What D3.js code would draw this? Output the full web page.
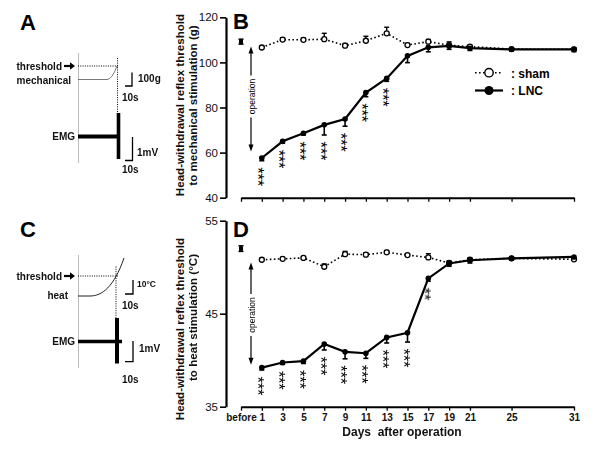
<!DOCTYPE html>
<html><head><meta charset="utf-8">
<script src="https://cdn.jsdelivr.net/npm/d3@7"></script>
<style>
body{margin:0;background:#fff}
svg{display:block}
text{font-family:"Liberation Sans",Arial,Helvetica,sans-serif}
</style>
</head><body>
<svg id="c" width="600" height="449"></svg>
<script>
// ---------- data ----------
const dayLabels = ["before","1","3","5","7","9","11","13","15","17","19","21","25","31"];
const dayValues = [-1,1,3,5,7,9,11,13,15,17,19,21,25,31];   // "before" placed at -1
const days = [1,3,5,7,9,11,13,15,17,19,21,25,31];

// B: mechanical threshold (g)
const mechBefore = 109.2, mechBeforeErr = 1.1;
const mechSham    = [106.6,110.1,110.0,110.3,107.4,109.6,112.9,107.7,109.2,107.6,107.0,105.9,105.8];
const mechShamErr = [0.8,0.8,0.8,2.6,1.0,2.0,2.7,0.7,1.0,1.5,0.6,0.5,0.5];
const mechLNC     = [57.6,65.0,68.6,72.3,74.9,86.6,92.9,102.9,106.7,107.3,106.3,105.8,105.8];
const mechLNCErr  = [1.2,0.8,0.8,4.5,3.2,1.8,1.3,3.0,2.0,1.5,1.0,0.8,1.0];
const mechStars   = ["***","***","***","***","***","***","***","","","","","",""];
const mechTicks   = [40,60,80,100,120];

// D: heat threshold (°C)
const heatBefore = 52.0, heatBeforeErr = 0.3;
const heatSham    = [50.8,50.9,51.0,50.05,51.4,51.35,51.6,51.3,51.05,50.45,50.8,50.95,50.85];
const heatShamErr = [0.15,0.15,0.15,0.3,0.3,0.2,0.2,0.15,0.4,0.2,0.2,0.15,0.15];
const heatLNC     = [39.2,39.75,39.9,41.75,40.9,40.75,42.45,42.95,48.8,50.4,50.75,50.95,51.1];
const heatLNCErr  = [0.25,0.2,0.25,0.65,0.75,0.55,0.6,1.0,0.3,0.3,0.3,0.2,0.2];
const heatStars   = ["***","***","***","***","***","***","***","***","**","","","",""];
const heatTicks   = [35,45,55];

// ---------- setup ----------
const svg = d3.select("#c");
const x = d3.scaleLinear().domain([-1,31]).range([241,574]);
const yB = d3.scaleLinear().domain([40,120]).range([197.7,17.3]);
const yD = d3.scaleLinear().domain([35,55]).range([406.7,220.7]);
const AXX = 226;

function panel(y, ticks, before, beforeErr, sham, shamErr, lnc, lncErr, stars, showLabels){
  const g = svg.append("g");
  // y axis
  const ya = g.append("g").attr("transform",`translate(${AXX},0)`)
    .call(d3.axisLeft(y).tickValues(ticks).tickSize(6).tickSizeOuter(0).tickPadding(2));
  ya.select(".domain").attr("stroke","#000").attr("stroke-width",2.2);
  ya.selectAll(".tick line").attr("stroke","#000").attr("stroke-width",1.6);
  ya.selectAll(".tick text").attr("font-size",11.5).attr("fill","#111")
    .attr("font-family","'Liberation Sans',Arial,sans-serif");
  // x axis
  const y0 = y.range()[0];
  const xa = g.append("g").attr("transform",`translate(0,${y0})`)
    .call(d3.axisBottom(x).tickValues(dayValues)
      .tickFormat((d,i)=> showLabels ? dayLabels[i] : "")
      .tickSize(4).tickSizeOuter(0).tickPadding(3));
  xa.select(".domain").attr("stroke","#000").attr("stroke-width",2);
  xa.selectAll(".tick line").attr("stroke","#000").attr("stroke-width",1.3);
  xa.selectAll(".tick text").attr("font-size",10).attr("font-weight","bold").attr("fill","#111")
    .attr("font-family","'Liberation Sans',Arial,sans-serif");

  // before marker
  const bx = x(-1);
  g.append("line").attr("x1",bx).attr("x2",bx).attr("y1",y(before+beforeErr)).attr("y2",y(before-beforeErr))
    .attr("stroke","#000").attr("stroke-width",1.5);
  [before+beforeErr, before-beforeErr].forEach(v=>{
    g.append("line").attr("x1",bx-2.5).attr("x2",bx+2.5).attr("y1",y(v)).attr("y2",y(v)).attr("stroke","#000").attr("stroke-width",1.5);
  });
  g.append("rect").attr("x",bx-2).attr("y",y(before)-2.2).attr("width",4).attr("height",4.4).attr("fill","#000");

  const shamPts = days.map((d,i)=>({d, v:sham[i], e:shamErr[i]}));
  const lncPts = days.map((d,i)=>({d, v:lnc[i], e:lncErr[i], s:stars[i]}));
  const line = d3.line().x(p=>x(p.d)).y(p=>y(p.v));

  // sham dotted line
  g.append("path").datum(shamPts).attr("d",line).attr("fill","none")
    .attr("stroke","#000").attr("stroke-width",1.6).attr("stroke-dasharray","1.6,2.4");
  // sham error bars (up)
  shamPts.forEach(p=>{
    const yt = y(p.v+p.e);
    g.append("line").attr("x1",x(p.d)).attr("x2",x(p.d)).attr("y1",y(p.v)).attr("y2",yt).attr("stroke","#000").attr("stroke-width",1.4);
    g.append("line").attr("x1",x(p.d)-2.5).attr("x2",x(p.d)+2.5).attr("y1",yt).attr("y2",yt).attr("stroke","#000").attr("stroke-width",1.4);
  });
  // lnc solid line
  g.append("path").datum(lncPts).attr("d",line).attr("fill","none")
    .attr("stroke","#000").attr("stroke-width",2.2);
  // lnc error bars (down)
  lncPts.forEach(p=>{
    const yb = y(p.v-p.e);
    g.append("line").attr("x1",x(p.d)).attr("x2",x(p.d)).attr("y1",y(p.v)).attr("y2",yb).attr("stroke","#000").attr("stroke-width",1.6);
    g.append("line").attr("x1",x(p.d)-2.5).attr("x2",x(p.d)+2.5).attr("y1",yb).attr("y2",yb).attr("stroke","#000").attr("stroke-width",1.6);
  });
  // markers
  g.selectAll(".sh").data(shamPts).enter().append("circle")
    .attr("cx",p=>x(p.d)).attr("cy",p=>y(p.v)).attr("r",2.5)
    .attr("fill","#fff").attr("stroke","#000").attr("stroke-width",1.3);
  g.selectAll(".ln").data(lncPts).enter().append("circle")
    .attr("cx",p=>x(p.d)).attr("cy",p=>y(p.v)).attr("r",2.8).attr("fill","#000");

  // significance stars: one rotated text per point, running downward
  const fs = 16.5;
  const sg = g.append("g").attr("opacity",0.99);
  lncPts.forEach(p=>{
    if(!p.s) return;
    const top = y(p.v-p.e) + 6.5;
    sg.append("text")
      .attr("transform",`translate(${x(p.d) - 0.58*fs},${top}) rotate(90)`)
      .attr("font-size",fs).attr("letter-spacing",-0.2).attr("fill","#000").text(p.s);
  });
  return g;
}

panel(yB, mechTicks, mechBefore, mechBeforeErr, mechSham, mechShamErr, mechLNC, mechLNCErr, mechStars, false);
panel(yD, heatTicks, heatBefore, heatBeforeErr, heatSham, heatShamErr, heatLNC, heatLNCErr, heatStars, true);

// operation arrows
function operation(yTop, yBot, yMid){
  const g = svg.append("g");
  const ax = 251;
  g.append("line").attr("x1",ax).attr("x2",ax).attr("y1",yTop+4).attr("y2",yMid-21).attr("stroke","#000").attr("stroke-width",1.2);
  g.append("line").attr("x1",ax).attr("x2",ax).attr("y1",yMid+21).attr("y2",yBot-4).attr("stroke","#000").attr("stroke-width",1.2);
  g.append("path").attr("d",`M${ax-2.5},${yTop+7}L${ax},${yTop}L${ax+2.5},${yTop+7}Z`).attr("fill","#000");
  g.append("path").attr("d",`M${ax-2.5},${yBot-7}L${ax},${yBot}L${ax+2.5},${yBot-7}Z`).attr("fill","#000");
  g.append("text").attr("transform",`translate(${ax+3.5},${yMid}) rotate(-90)`).attr("text-anchor","middle")
    .attr("font-size",8.5).attr("fill","#000").text("operation");
}
operation(yB(107), yB(60.5), 96.5);
operation(yD(50.5), yD(39.5), 315);

// legend
const lg = svg.append("g");
lg.append("line").attr("x1",475).attr("x2",503).attr("y1",72.7).attr("y2",72.7).attr("stroke","#000").attr("stroke-width",1.6).attr("stroke-dasharray","1.6,2.4");
lg.append("circle").attr("cx",489).attr("cy",72.7).attr("r",4.2).attr("fill","#fff").attr("stroke","#000").attr("stroke-width",1.4);
lg.append("text").attr("x",511).attr("y",77.5).attr("font-size",12).attr("font-weight","bold").text(": sham");
lg.append("line").attr("x1",475).attr("x2",503).attr("y1",90.5).attr("y2",90.5).attr("stroke","#000").attr("stroke-width",2.2);
lg.append("circle").attr("cx",489).attr("cy",90.5).attr("r",4.5).attr("fill","#000");
lg.append("text").attr("x",511).attr("y",95.3).attr("font-size",12).attr("font-weight","bold").text(": LNC");

// panel letters
[["A",20,30],["B",233,29],["C",20,237],["D",233,236.7]].forEach(([t,px,py])=>{
  svg.append("text").attr("x",px).attr("y",py).attr("font-size",22).attr("font-weight","bold").text(t);
});

// y-axis titles
function ytitle(lines){
  lines.forEach(([t,bx,cy])=>{
    svg.append("text").attr("transform",`translate(${bx},${cy}) rotate(-90)`).attr("text-anchor","middle")
      .attr("font-size",11.6).attr("font-weight","bold").attr("fill","#111").text(t);
  });
}
ytitle([["Head-withdrawal reflex threshold",184,105],["to mechanical stimulation  (g)",197,105.5]]);
ytitle([["Head-withdrawal reflex threshold",184,329],["to heat stimulation (°C)",197,317.5]]);

// x title
svg.append("text").attr("x",402).attr("y",435.5).attr("text-anchor","middle").attr("font-size",12)
  .attr("font-weight","bold").attr("fill","#111").attr("xml:space","preserve").text("Days  after operation");

// ---------- schematic traces (panels A and C) ----------
function label(t,px,py,anchor,fs){
  svg.append("text").attr("x",px).attr("y",py).attr("text-anchor",anchor||"start")
    .attr("font-size",fs||10).attr("font-weight","bold").attr("fill","#111").text(t);
}
function arrow(px,py){
  svg.append("line").attr("x1",px).attr("x2",px+7).attr("y1",py).attr("y2",py).attr("stroke","#000").attr("stroke-width",2.2);
  svg.append("path").attr("d",`M${px+6},${py-3.8}L${px+11},${py}L${px+6},${py+3.8}Z`).attr("fill","#000");
}
function path(d,w,color,dash){
  const p = svg.append("path").attr("d",d).attr("fill","none").attr("stroke",color||"#000").attr("stroke-width",w);
  if(dash) p.attr("stroke-dasharray",dash);
}
// Panel A
path("M78.5,53V163",0.8,"#aaa");
path("M78,66H118",1,"#000","1,1.3");
path("M117.5,58V113",1,"#000","1,1.3");
label("threshold",62,69.5,"end");
arrow(64,66);
label("mechanical",71,83.5,"end");
path("M78,79.5H107Q112,79.5 117,66",0.8,"#555");
path("M125,86H132V72.5",1.3);
label("100g",138,82,"start",10);
label("10s",122,100.5,"start",10);
label("EMG",75,139.5,"end");
path("M78,136.5H118",4.2);
path("M118.5,113V159",3.6);
path("M125,160.5H132.5V137",1.3);
label("1mV",137,156,"start",10);
label("10s",122,172.5,"start",10);

// Panel C
path("M78.5,255V368",0.8,"#aaa");
path("M78,276H118",1,"#000","1,1.3");
path("M116,266.5V318",1,"#000","1,1.3");
label("threshold",62,279.5,"end");
arrow(64,276);
label("heat",68,298.5,"end");
path("M78,296L90,296C102,296 114,287 124,258",1,"#222");
path("M125,294H133V280",1.3);
label("10°C",137,287,"start",8.5);
label("10s",122,309,"start",10);
label("EMG",75,345,"end");
path("M78,341.5H122",3.6);
path("M117,318V363.5",4);
path("M125,361.7H133V341",1.3);
label("1mV",139,352,"start",10);
label("10s",122,383,"start",10);
</script>
</body></html>
